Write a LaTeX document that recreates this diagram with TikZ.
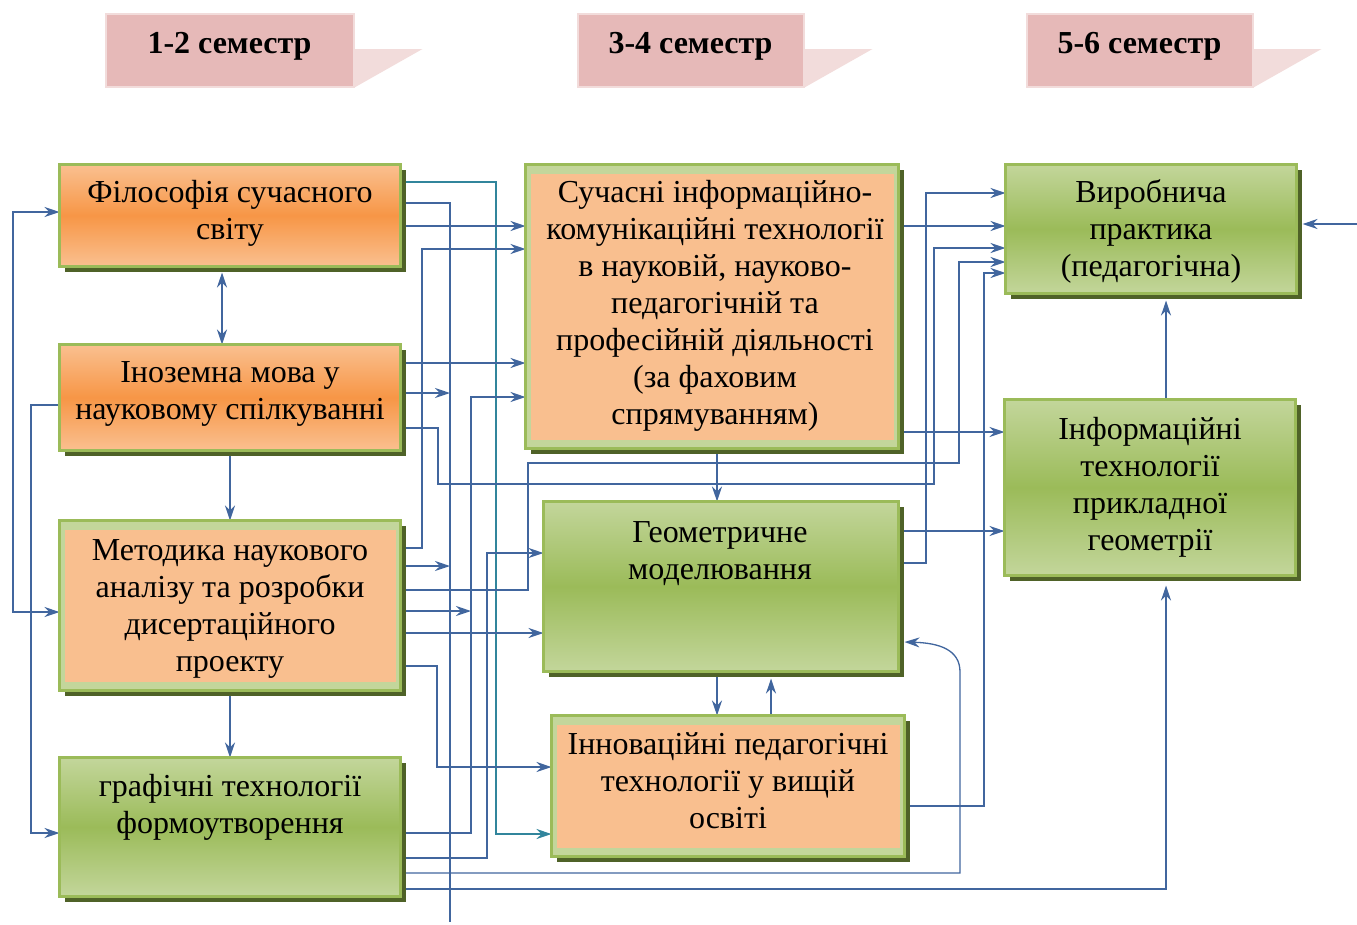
\documentclass[tikz,border=0pt]{standalone}
\usepackage{fontspec}
\setmainfont{Liberation Serif}
\usetikzlibrary{arrows.meta,shadows,calc}
\definecolor{tabpink}{HTML}{E6B9B8}
\definecolor{tablight}{HTML}{F2DCDB}
\definecolor{orlight}{HTML}{FAC090}
\definecolor{ordark}{HTML}{F79646}
\definecolor{grlight}{HTML}{C3D69B}
\definecolor{grdark}{HTML}{9BBB59}
\definecolor{shadowc}{HTML}{4F6228}
\definecolor{peach}{HTML}{F9BF8F}
\definecolor{linec}{RGB}{65,102,158}
\definecolor{tealc}{RGB}{49,133,156}
\pgfdeclarelayer{bg}
\pgfsetlayers{bg,main}
\newcommand\mkbox[6]{\node[#6, minimum width={#4-#2-3}, minimum height={#5-#3-3}] (#1) at ({(#2+#4)/2},{(#3+#5)/2}) {};}
\begin{document}
\begin{tikzpicture}[x=1pt,y=-1pt,
  boxbase/.style={draw=grdark, line width=3pt, inner sep=0pt, outer sep=0pt,
    drop shadow={shadow xshift=5pt, shadow yshift=-5pt, fill=shadowc, opacity=1}},
  orbox/.style={boxbase, top color=orlight, bottom color=orlight, middle color=ordark},
  grbox/.style={boxbase, top color=grlight, bottom color=grlight, middle color=grdark},
  bandbox/.style={boxbase, fill=grlight},
  txt/.style={font=\fontsize{32}{37}\selectfont, align=center, inner sep=0pt, anchor=north},
  hdr/.style={font=\fontsize{32}{37}\selectfont\bfseries, inner sep=0pt, anchor=base},
  tabbox/.style={fill=tabpink, draw=tablight, line width=2pt, inner sep=0pt},
  conn/.style={draw=linec, line width=1.3pt},
  arr/.style={conn, -{Stealth[length=15pt,width=10pt,inset=5pt]}},
  dblarr/.style={conn, {Stealth[length=15pt,width=10pt,inset=5pt]}-{Stealth[length=15pt,width=10pt,inset=5pt]}},
]
\useasboundingbox (0,0) rectangle (1357,924);

% header tabs
\mkbox{h1}{104}{12}{355}{88}{tabbox}
\mkbox{h2}{576}{12}{805}{88}{tabbox}
\mkbox{h3}{1025}{12}{1254}{88}{tabbox}
\fill[tablight] (h1.east |- 0,49) -- ++(68,0) -- (h1.south east) -- cycle;
\fill[tablight] (h2.east |- 0,49) -- ++(68,0) -- (h2.south east) -- cycle;
\fill[tablight] (h3.east |- 0,49) -- ++(68,0) -- (h3.south east) -- cycle;
\node[hdr] (h1t) at (229.5,53) {1-2 семестр};
\node[hdr] (h2t) at (690.5,53) {3-4 семестр};
\node[hdr] (h3t) at (1139.5,53) {5-6 семестр};

% boxes
\mkbox{A}{58}{163}{402}{268}{orbox}
\mkbox{B}{58}{343}{402}{452}{orbox}
\mkbox{C}{58}{519}{402}{692}{bandbox}
\mkbox{D}{58}{756}{402}{898}{grbox}
\mkbox{E}{524}{163}{900}{450}{bandbox}
\mkbox{F}{542}{500}{900}{673}{grbox}
\mkbox{G}{550}{714}{906}{858}{bandbox}
\mkbox{H}{1004}{163}{1298}{295}{grbox}
\mkbox{I}{1003}{398}{1297}{577}{grbox}
\fill[peach] ([shift={(5,-9)}]C.south west) rectangle ([shift={(-5,9)}]C.north east);
\fill[peach] ([shift={(5,-9)}]E.south west) rectangle ([shift={(-5,9)}]E.north east);
\fill[peach] ([shift={(5,-9)}]G.south west) rectangle ([shift={(-5,9)}]G.north east);

% texts (first baseline = y + 25)
\node[txt] (tA) at (230,177) {\rule{0pt}{25pt}Філософія сучасного\\світу};
\node[txt] (tB) at (230,357) {\rule{0pt}{25pt}Іноземна мова у\\науковому спілкуванні};
\node[txt] (tC) at (230,535) {\rule{0pt}{25pt}Методика наукового\\аналізу та розробки\\дисертаційного\\проекту};
\node[txt] (tD) at (230,771) {\rule{0pt}{25pt}графічні технології\\формоутворення};
\node[txt] (tE) at (715,177) {\rule{0pt}{25pt}Сучасні інформаційно-\\комунікаційні технології\\в науковій, науково-\\педагогічній та\\професійній діяльності\\(за фаховим\\спрямуванням)};
\node[txt] (tF) at (720,517) {\rule{0pt}{25pt}Геометричне\\моделювання};
\node[txt] (tG) at (728,729) {\rule{0pt}{25pt}Інноваційні педагогічні\\технології у вищій\\освіті};
\node[txt] (tH) at (1151,177) {\rule{0pt}{25pt}Виробнича\\практика\\(педагогічна)};
\node[txt] (tI) at (1150,414) {\rule{0pt}{25pt}Інформаційні\\технології\\прикладної\\геометрії};

\coordinate (busend) at (450,922);
\coordinate (j471) at (471,833);
\coordinate (ext) at (1357,224);

\begin{pgfonlayer}{bg}
% from A
\draw[arr, draw=tealc] (A.east |- 0,182) -| (496,834) -- (G.west |- 0,834);
\draw[conn] (A.east |- 0,203) -| (busend);
\draw[arr] (A.east |- 0,226) -- (E.west |- 0,226);
\draw[dblarr] ($(A.south -| 222,0)+(0,6)$) -- (B.north -| 222,0);
\draw[dblarr] (A.west |- 0,212) -| (13,612) -- (C.west |- 0,612);
% from B
\draw[arr] (B.east |- 0,363) -- (E.west |- 0,363);
\draw[arr] (B.east |- 0,393) -- (busend |- 0,393);
\draw[arr] (B.east |- 0,428) -| (438,484) -| (934,248) -- (H.west |- 0,248);
\draw[arr] (B.west |- 0,405) -| (31,833) -- (D.west |- 0,833);
\draw[arr] (B.south) -- (C.north);
% from C
\draw[arr] (C.east |- 0,548) -| (422,249) -- (E.west |- 0,249);
\draw[arr] (C.east |- 0,566) -- (busend |- 0,566);
\draw[arr] (C.east |- 0,590) -| (528,463) -| (959,262) -- (H.west |- 0,262);
\draw[arr] (C.east |- 0,611) -- (j471 |- 0,611);
\draw[arr] (C.east |- 0,633) -- (F.west |- 0,633);
\draw[arr] (C.east |- 0,666) -| (437,767) -- (G.west |- 0,767);
\draw[arr] (C.south) -- (D.north);
% from D
\draw[arr] (D.east |- j471) -| (471,397) -- (E.west |- 0,397);
\draw[arr] (D.east |- 0,858) -| (487,553) -- (F.west |- 0,553);
\draw[arr] (D.east |- 0,873) -- (960,873) -- (960,672) .. controls (960,650) and (940,643) .. ($(F.east |- 0,642)+(6,0)$);
\draw[arr] (D.east |- 0,889) -| ($(I.south -| 1166,0)+(0,10)$);
% from E
\draw[arr] (E.south -| 717,0) -- (F.north -| 717,0);
\draw[arr] (E.east |- 0,226) -- (H.west |- 0,226);
\draw[arr] (E.east |- 0,432) -- (I.west |- 0,432);
% from F
\draw[arr] (F.south -| 717,0) -- (G.north -| 717,0);
\draw[arr] (F.east |- 0,531) -- (I.west |- 0,531);
\draw[arr] (F.east |- 0,563) -| (926,193) -- (H.west |- 0,193);
% from G
\draw[arr] (G.north -| 771,0) -- ($(F.south -| 771,0)+(0,7)$);
\draw[arr] (G.east |- 0,806) -| (984,273) -- (H.west |- 0,273);
% from I and outside
\draw[arr] (I.north -| 1166,0) -- ($(H.south -| 1166,0)+(0,7)$);
\draw[arr] (ext) -- ($(H.east |- 0,224)+(6,0)$);
\end{pgfonlayer}
\end{tikzpicture}
\end{document}
